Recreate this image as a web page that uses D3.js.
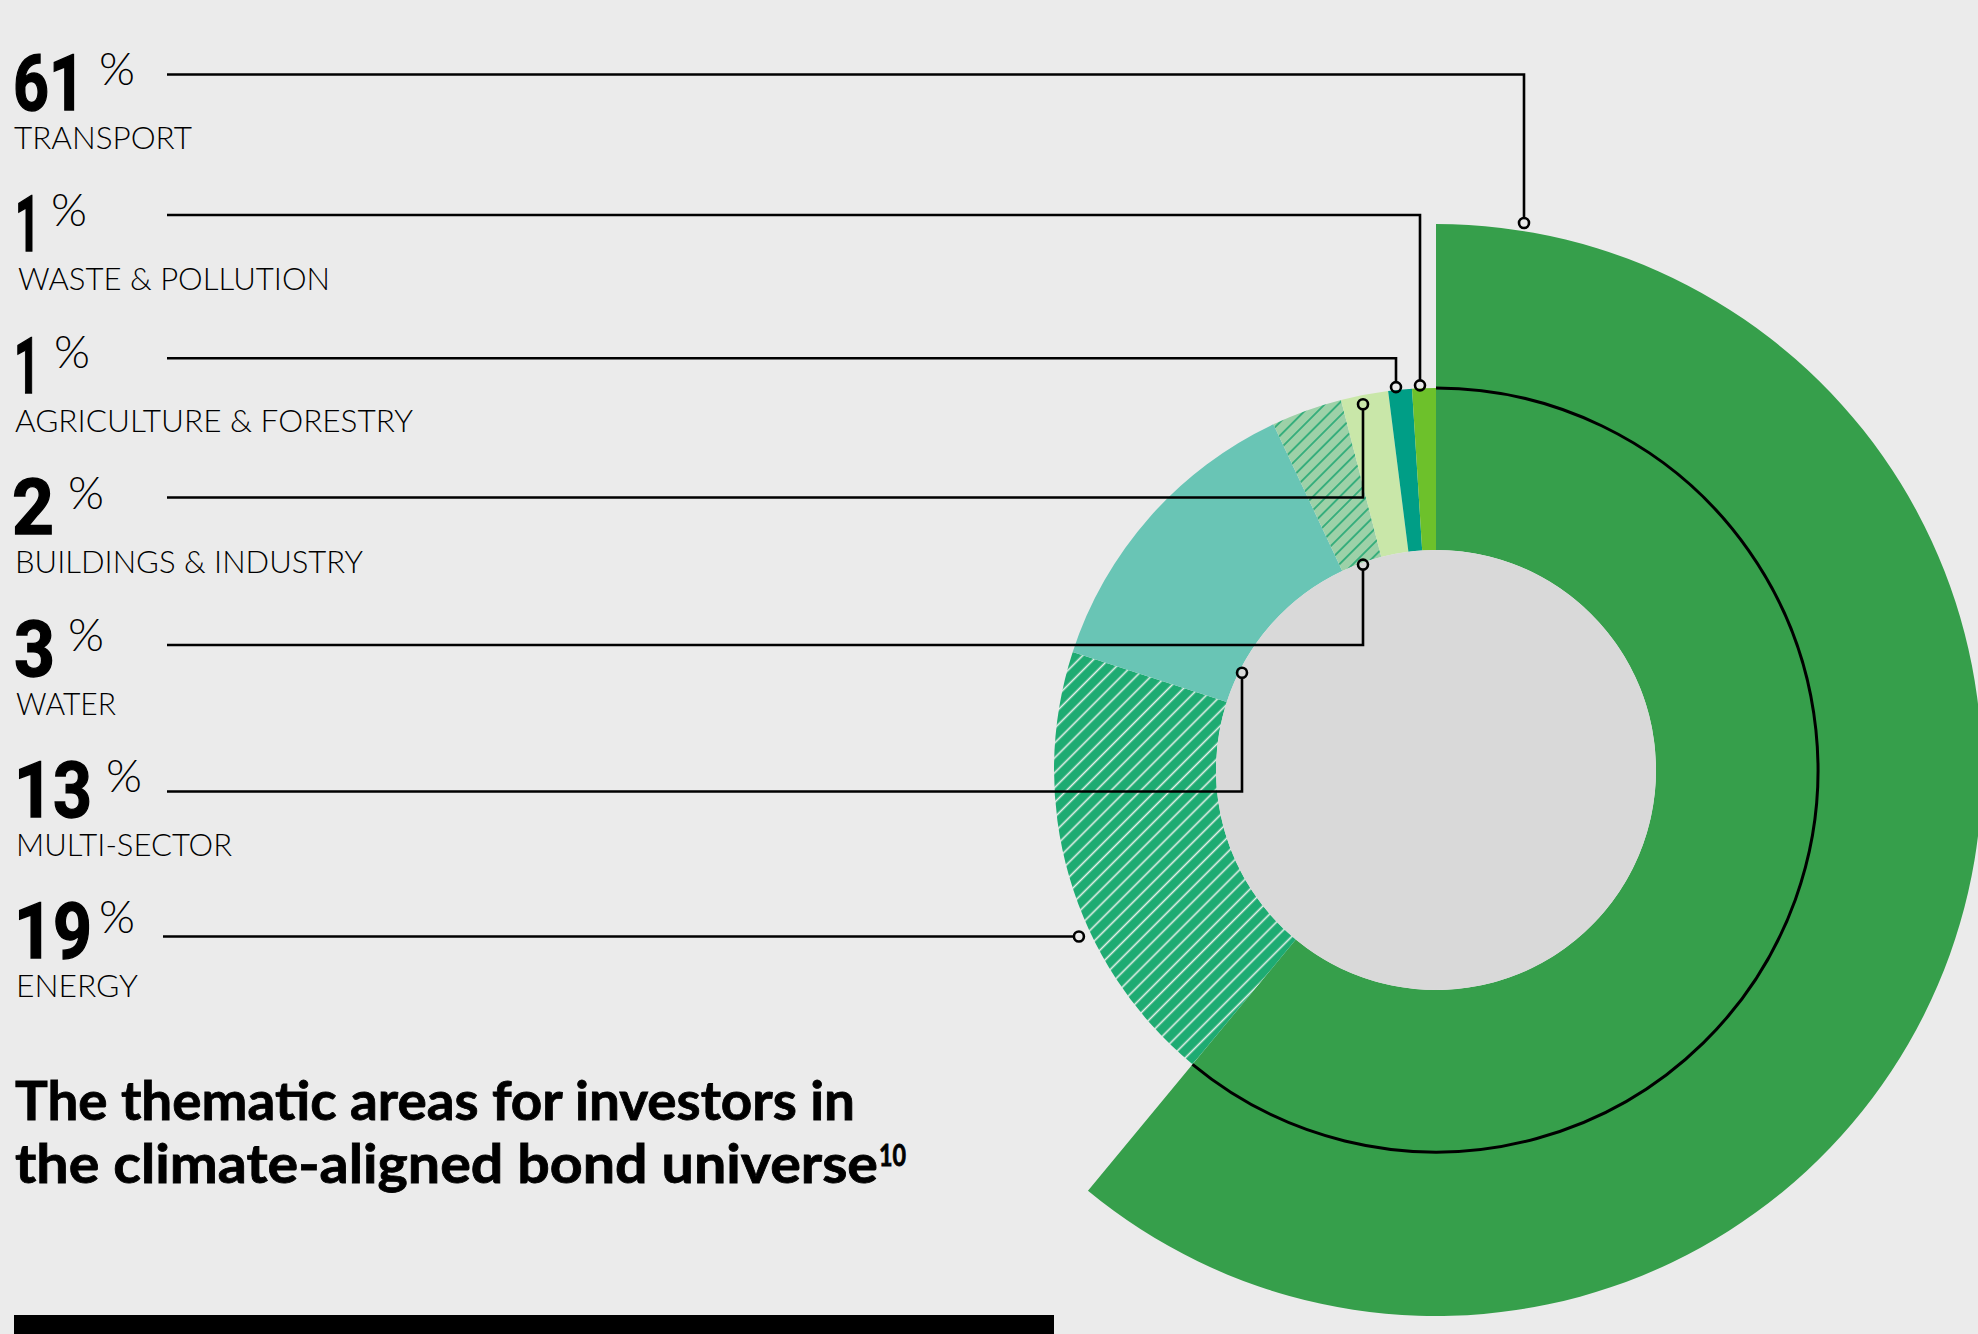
<!DOCTYPE html>
<html>
<head>
<meta charset="utf-8">
<script src="https://cdn.jsdelivr.net/npm/d3@7"></script>
<style>
  html, body { margin: 0; padding: 0; background: #ebebeb; }
  svg { display: block; }
</style>
</head>
<body>
<svg id="chart" width="1978" height="1334"></svg>
<script>
// ---- data ----
const categories = ["TRANSPORT", "ENERGY", "MULTI-SECTOR", "WATER",
                    "BUILDINGS & INDUSTRY", "AGRICULTURE & FORESTRY", "WASTE & POLLUTION"];
const shares = [61, 19, 13, 3, 2, 1, 1];
// order in which the labels are listed down the left side
const labelOrder = ["TRANSPORT", "WASTE & POLLUTION", "AGRICULTURE & FORESTRY",
                    "BUILDINGS & INDUSTRY", "WATER", "MULTI-SECTOR", "ENERGY"];
const titleLines = ["The thematic areas for investors in", "the climate-aligned bond universe"];
const titleNote = "10";

// ---- styles ----
const sliceFills = ["#369f4b", "url(#hatch-energy)", "#69c5b5", "url(#hatch-water)",
                    "#c9e7a9", "#009e86", "#6dc12b"];
const bg = "#ebebeb";

// ---- layout ----
const cx = 1436, cy = 770;
const rHole = 220, rRing = 382, rMain = 546, rGuide = 382;
// per label row: leader line height, elbow x (null = straight leader),
// which edge of the slice the dot sits on and how far off it
const rowLayout = [
  { lineY: 74.5,  elbowX: 1524, edge: "outer", off: 8,  lineX: 167, numX: 13, numW: 72, pctX: 99,  nameX: 14 },
  { lineY: 215,   elbowX: 1420, edge: "outer", off: 3,  lineX: 167, numX: 15, numW: 25, pctX: 51,  nameX: 18 },
  { lineY: 358.3, elbowX: 1396, edge: "outer", off: 3,  lineX: 167, numX: 14, numW: 26, pctX: 54,  nameX: 15 },
  { lineY: 497.5, elbowX: 1363, edge: "outer", off: -9, lineX: 167, numX: 12, numW: 42, pctX: 68,  nameX: 15 },
  { lineY: 645,   elbowX: 1363, edge: "inner", off: -2, lineX: 167, numX: 14, numW: 41, pctX: 68,  nameX: 16 },
  { lineY: 791.5, elbowX: 1242, edge: "inner", off: -3, lineX: 167, numX: 14, numW: 78, pctX: 106, nameX: 16 },
  { lineY: 936.5, elbowX: null, edge: "outer", off: 12, lineX: 163, numX: 14, numW: 78, pctX: 99,  nameX: 16 }
];
const nameWidths = [178, 312, 398, 348, 100, 216, 122];
const rowStep = 141.4, firstBase = 110;

const svg = d3.select("#chart");
svg.append("rect").attr("width", 1978).attr("height", 1334).attr("fill", bg);

// hatch patterns
const defs = svg.append("defs");
function hatch(id, base, line, width, s) {
  const p = defs.append("pattern")
    .attr("id", id)
    .attr("patternUnits", "userSpaceOnUse")
    .attr("width", s).attr("height", s)
    .attr("patternTransform", "rotate(45)");
  p.append("rect").attr("width", s).attr("height", s).attr("fill", base);
  p.append("line")
    .attr("x1", s / 2).attr("y1", 0).attr("x2", s / 2).attr("y2", s)
    .attr("stroke", line).attr("stroke-width", width);
}
hatch("hatch-energy", "#1eab72", "#e8f1eb", 1.6, 10.5);
hatch("hatch-water", "#9dd1a8", "#22a874", 1.6, 9.5);

// ---- donut ----
const pie = d3.pie().sort(null).value(d => d.value).startAngle(0).endAngle(2 * Math.PI);
const slices = pie(categories.map((name, i) => ({ name, value: shares[i] })));
const outerR = d => (d.index === 0 ? rMain : rRing);
const arc = d3.arc().innerRadius(rHole).outerRadius(outerR);

const g = svg.append("g").attr("transform", `translate(${cx},${cy})`);
g.selectAll("path.slice")
  .data(slices)
  .join("path")
  .attr("class", "slice")
  .attr("d", arc)
  .attr("fill", (d, i) => sliceFills[i]);

g.append("circle").attr("r", rHole).attr("fill", "#d9d9d9");

// thin guide arc running through the transport slice
const guide = d3.path();
guide.arc(0, 0, rGuide, -Math.PI / 2, slices[0].endAngle - Math.PI / 2);
g.append("path").attr("d", guide.toString())
  .attr("fill", "none").attr("stroke", "#000").attr("stroke-width", 3);

// ---- leaders ----
const dotR = 5;
const leaders = svg.append("g")
  .attr("fill", "none").attr("stroke", "#000").attr("stroke-width", 2.6);

labelOrder.forEach((name, row) => {
  const L = rowLayout[row];
  const s = slices.find(d => d.data.name === name);
  const r = (L.edge === "outer" ? outerR(s) : rHole) + L.off;
  if (L.elbowX !== null) {
    const dx = L.elbowX - cx;
    const dotY = cy - Math.sqrt(r * r - dx * dx);
    const dir = dotY > L.lineY ? 1 : -1;
    leaders.append("path")
      .attr("d", `M${L.lineX},${L.lineY}H${L.elbowX}V${dotY - dir * dotR}`);
    leaders.append("circle").attr("cx", L.elbowX).attr("cy", dotY).attr("r", dotR);
  } else {
    const dy = L.lineY - cy;
    const dotX = cx - Math.sqrt(r * r - dy * dy);
    leaders.append("path").attr("d", `M${L.lineX},${L.lineY}H${dotX - dotR}`);
    leaders.append("circle").attr("cx", dotX).attr("cy", L.lineY).attr("r", dotR);
  }
});

// ---- labels ----
const labels = svg.append("g").attr("fill", "#000");
labelOrder.forEach((name, row) => {
  const L = rowLayout[row];
  const s = slices.find(d => d.data.name === name);
  const base = firstBase + row * rowStep;
  labels.append("text")
    .attr("x", L.numX).attr("y", base)
    .attr("font-family", "Roboto, 'Liberation Sans', sans-serif")
    .attr("font-weight", 700).attr("font-size", 78)
    .attr("stroke", "#000").attr("stroke-width", 1.4)
    .attr("textLength", L.numW).attr("lengthAdjust", "spacingAndGlyphs")
    .text(s.data.value);
  labels.append("text")
    .attr("x", L.pctX).attr("y", base - 25)
    .attr("font-family", "Lato, 'Open Sans', sans-serif")
    .attr("font-weight", 300).attr("font-size", 46)
    .attr("textLength", 36).attr("lengthAdjust", "spacingAndGlyphs")
    .text("%");
  labels.append("text")
    .attr("x", L.nameX).attr("y", base + 39)
    .attr("font-family", "Lato, 'Open Sans', sans-serif")
    .attr("font-weight", 300).attr("font-size", 32)
    .attr("textLength", nameWidths[row]).attr("lengthAdjust", "spacingAndGlyphs")
    .text(name);
});

// ---- title ----
const title = svg.append("g")
  .attr("font-family", "Lato, 'Liberation Sans', sans-serif")
  .attr("font-weight", 700).attr("fill", "#000")
  .attr("stroke", "#000").attr("stroke-width", 0.8);
title.append("text")
  .attr("x", 15).attr("y", 1120).attr("font-size", 53)
  .attr("textLength", 840).attr("lengthAdjust", "spacingAndGlyphs")
  .text(titleLines[0]);
title.append("text")
  .attr("x", 15).attr("y", 1183).attr("font-size", 53)
  .attr("textLength", 863).attr("lengthAdjust", "spacingAndGlyphs")
  .text(titleLines[1]);
title.append("text")
  .attr("x", 879).attr("y", 1166).attr("font-size", 30)
  .attr("textLength", 27).attr("lengthAdjust", "spacingAndGlyphs")
  .text(titleNote);

// bar along the bottom edge
svg.append("rect").attr("x", 14).attr("y", 1315).attr("width", 1040).attr("height", 19).attr("fill", "#000");
</script>
</body>
</html>
